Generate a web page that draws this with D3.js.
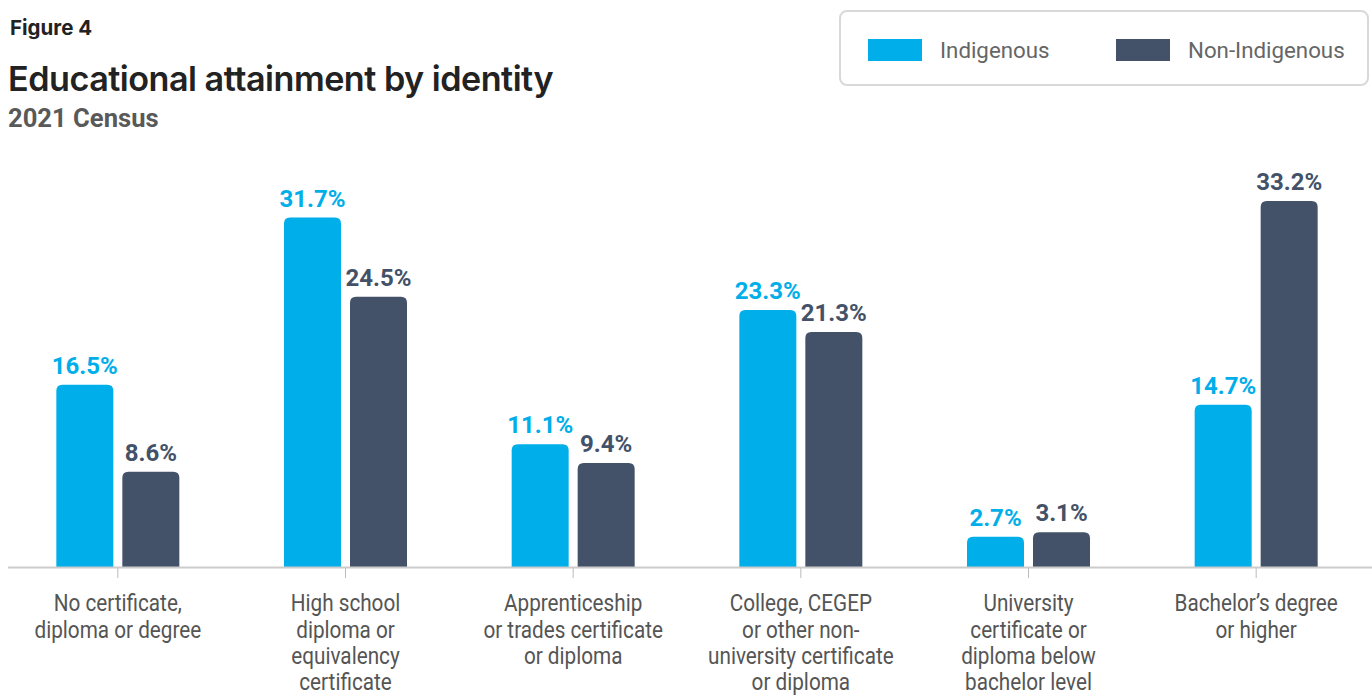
<!DOCTYPE html>
<html>
<head>
<meta charset="utf-8">
<script src="https://cdn.jsdelivr.net/npm/d3@7"></script>
<style>
  html, body { margin: 0; padding: 0; background: #fff; }
  svg { display: block; }
</style>
</head>
<body>
<svg id="chart" width="1372" height="696"></svg>
<script>
const categories = [
  "No certificate, diploma or degree",
  "High school diploma or equivalency certificate",
  "Apprenticeship or trades certificate or diploma",
  "College, CEGEP or other non-university certificate or diploma",
  "University certificate or diploma below bachelor level",
  "Bachelor’s degree or higher"
];
const categoryLines = [
  ["No certificate,", "diploma or degree"],
  ["High school", "diploma or", "equivalency", "certificate"],
  ["Apprenticeship", "or trades certificate", "or diploma"],
  ["College, CEGEP", "or other non-", "university certificate", "or diploma"],
  ["University", "certificate or", "diploma below", "bachelor level"],
  ["Bachelor’s degree", "or higher"]
];
const seriesNames = ["Indigenous", "Non-Indigenous"];
const indigenous = [16.5, 31.7, 11.1, 23.3, 2.7, 14.7];
const nonIndigenous = [8.6, 24.5, 9.4, 21.3, 3.1, 33.2];
const colors = ["#00AEEA", "#435268"];

const svg = d3.select("#chart");

// Titles
svg.append("text").attr("x", 10).attr("y", 35)
  .attr("font-family", "Inter, 'Noto Sans', sans-serif").attr("font-weight", 700)
  .attr("font-size", 20.5).attr("fill", "#222").text("Figure 4");

const title = svg.append("text").attr("x", 8).attr("y", 91)
  .attr("font-family", "Inter, 'Noto Sans', sans-serif").attr("font-weight", 600)
  .attr("font-size", 32).attr("fill", "#222").attr("letter-spacing", -0.5)
  .text("Educational attainment by identity");
{
  const w = title.node().getComputedTextLength();
  title.attr("font-size", 32 * 544 / w);
}

svg.append("text").attr("x", 8).attr("y", 127)
  .attr("font-family", "Roboto, sans-serif").attr("font-weight", 700)
  .attr("font-size", 25.6).attr("fill", "#595959").text("2021 Census");

// Legend
svg.append("rect").attr("x", 840).attr("y", 11).attr("width", 528).attr("height", 74)
  .attr("rx", 7).attr("fill", "#fff").attr("stroke", "#d9d9d9").attr("stroke-width", 2);
const legendX = [868, 1116];
seriesNames.forEach((s, i) => {
  svg.append("rect").attr("x", legendX[i]).attr("y", 39).attr("width", 54).attr("height", 22)
    .attr("fill", colors[i]);
  svg.append("text").attr("x", legendX[i] + 72).attr("y", 58)
    .attr("font-family", "Roboto, sans-serif").attr("font-size", 22.3).attr("fill", "#666")
    .text(s);
});

// Scales
const baseY = 567;
const x0 = d3.scaleBand().domain(categories).range([4, 1370]);
const x1 = d3.scaleBand().domain(seriesNames).range([-61.5, 61.5]).paddingInner(9 / 66);
const y = d3.scaleLinear().domain([0, 33.2]).range([baseY - 0.5, 201]);

const data = categories.map((c, i) => ({
  cat: c,
  values: [
    { s: seriesNames[0], v: indigenous[i], color: colors[0] },
    { s: seriesNames[1], v: nonIndigenous[i], color: colors[1] }
  ]
}));

function topRounded(x, yTop, w, h, r) {
  r = Math.min(r, h, w / 2);
  return `M${x},${yTop + h}V${yTop + r}Q${x},${yTop} ${x + r},${yTop}H${x + w - r}Q${x + w},${yTop} ${x + w},${yTop + r}V${yTop + h}Z`;
}

const groups = svg.append("g").selectAll("g").data(data).join("g")
  .attr("transform", d => `translate(${x0(d.cat) + x0.bandwidth() / 2},0)`);

groups.selectAll("path").data(d => d.values).join("path")
  .attr("d", d => topRounded(x1(d.s), y(d.v), x1.bandwidth(), baseY - y(d.v), 6))
  .attr("fill", d => d.color);

groups.selectAll("text.val").data(d => d.values).join("text")
  .attr("class", "val")
  .attr("x", d => x1(d.s) + x1.bandwidth() / 2)
  .attr("y", d => y(d.v) - 11)
  .attr("text-anchor", "middle")
  .attr("font-family", "Roboto, sans-serif").attr("font-weight", 700)
  .attr("font-size", 24).attr("fill", d => d.color)
  .text(d => d.v.toFixed(1) + "%");

// Axis
const axis = d3.axisBottom(x0).tickSize(11).tickFormat("");
const axG = svg.append("g").attr("transform", `translate(0,${baseY})`).call(axis);
axG.select(".domain").remove();
axG.selectAll(".tick line").attr("stroke", "#bbb").attr("stroke-width", 1);
svg.append("line").attr("x1", 8).attr("x2", 1372).attr("y1", baseY + 0.5).attr("y2", baseY + 0.5)
  .attr("stroke", "#cccccc").attr("stroke-width", 2);

// Category labels
categories.forEach((c, i) => {
  const cx = x0(c) + x0.bandwidth() / 2;
  const t = svg.append("text")
    .attr("text-anchor", "middle")
    .attr("font-family", "Roboto, sans-serif").attr("font-size", 23).attr("fill", "#555")
    .attr("transform", `translate(${cx},0) scale(0.9,1)`);
  categoryLines[i].forEach((ln, j) => {
    t.append("tspan").attr("x", 0).attr("y", 611.5 + j * 26.3).text(ln);
  });
});
</script>
</body>
</html>
